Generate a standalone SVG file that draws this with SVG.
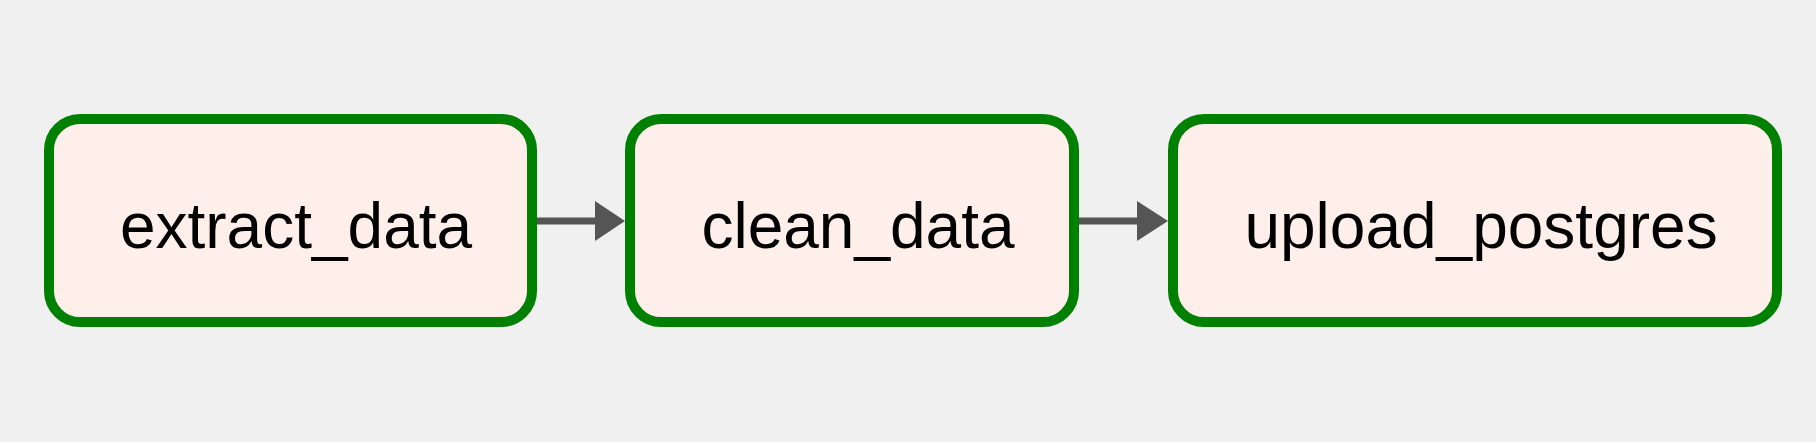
<svg xmlns="http://www.w3.org/2000/svg" width="1816" height="442" viewBox="0 0 1816 442">
<style>
.node rect{fill:#ffefeb;stroke:#008000;stroke-width:10}
.node text{font-family:"Liberation Sans",Arial,sans-serif;font-size:64px;fill:#000;text-anchor:middle}
.edge line{stroke:#555;stroke-width:7}
.edge polygon{fill:#555}
</style>
<rect width="1816" height="442" fill="#f0f0f0"/>
<g id="extract_data" class="node">
<rect x="49" y="119" width="483" height="203" rx="31"/>
<text x="296" y="248">extract_data</text>
</g>
<g id="clean_data" class="node">
<rect x="630" y="119" width="444" height="203" rx="31"/>
<text x="858" y="248">clean_data</text>
</g>
<g id="upload_postgres" class="node">
<rect x="1173" y="119" width="604" height="203" rx="31"/>
<text x="1481" y="248">upload_postgres</text>
</g>
<g id="connectors" class="edge">
<line x1="537" y1="221" x2="600" y2="221"/>
<polygon points="595,201 625,221 595,241"/>
<line x1="1079" y1="221" x2="1142" y2="221"/>
<polygon points="1137,201 1168,221 1137,241"/>
</g>
</svg>
